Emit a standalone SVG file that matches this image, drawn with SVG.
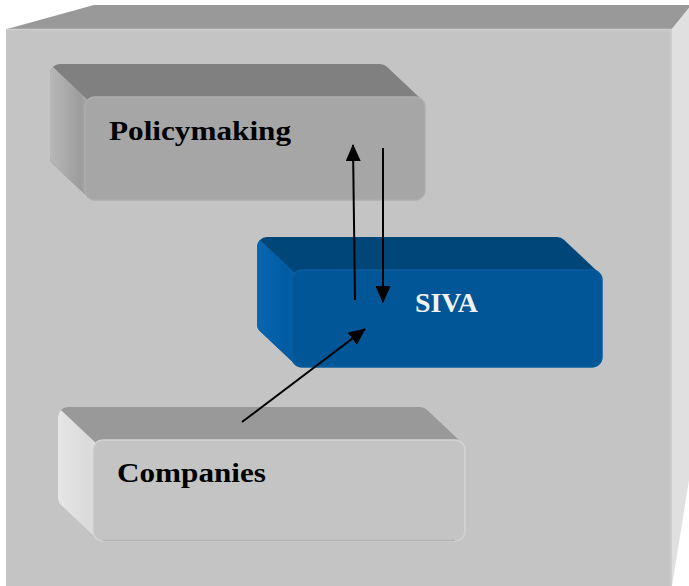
<svg xmlns="http://www.w3.org/2000/svg" width="689" height="586" viewBox="0 0 689 586">
<defs>
<style>
.lbl{font-family:"Liberation Serif","Times New Roman",serif;font-weight:bold;font-size:28px}
.conn{stroke:#000;stroke-width:2;fill:none}
</style>
<linearGradient id="gSideP" x1="0" y1="0" x2="1" y2="0">
<stop offset="0" stop-color="#b8b8b8"/><stop offset="0.8" stop-color="#9c9c9c"/><stop offset="1" stop-color="#a9a9a9"/>
</linearGradient>
<linearGradient id="gSideS" x1="0" y1="0" x2="1" y2="0">
<stop offset="0" stop-color="#0866b0"/><stop offset="0.8" stop-color="#005ba2"/><stop offset="1" stop-color="#0a62a9"/>
</linearGradient>
<linearGradient id="gSideC" x1="0" y1="0" x2="1" y2="0">
<stop offset="0" stop-color="#e6e6e6"/><stop offset="0.8" stop-color="#dadada"/><stop offset="1" stop-color="#e2e2e2"/>
</linearGradient>
<marker id="ah" viewBox="0 0 17 15" markerWidth="17" markerHeight="15" refX="16" refY="7.5" orient="auto" markerUnits="userSpaceOnUse">
<path d="M0,0 L17,7.5 L0,15 Z" fill="#000"/>
</marker>
</defs>
<rect width="689" height="586" fill="#ffffff"/>
<g id="frame">
<polygon points="7,29 94,5 689,5 689,8 672,29" fill="#999999"/>
<polygon points="672,29 689,8 689,480 672,586" fill="#e0e0e0"/>
<rect x="6" y="29" width="666" height="557" fill="#c4c4c4"/>
<line x1="6" y1="29.5" x2="672" y2="29.5" stroke="#cdcdcd" stroke-width="1.5"/>
<line x1="671" y1="29" x2="671" y2="586" stroke="#d0d0d0" stroke-width="1.5"/>
</g>
<g id="policymaking">
<path d="M60,64 L380,64 A10,10 0 0 1 386.9,66.7 L421.9,99.7 A10,10 0 0 1 425,107 L425,190 A10,10 0 0 1 415,200 L95,200 A10,10 0 0 1 88.1,197.3 L53.1,164.3 A10,10 0 0 1 50,157 L50,74 A10,10 0 0 1 60,64 Z" fill="#808080"/>
<path d="M50,157 L50,74 A10,10 0 0 1 52.9,66.9 L87.9,99.9 A10,10 0 0 0 85,107 L85,190 A10,10 0 0 0 88.1,197.3 L53.1,164.3 A10,10 0 0 1 50,157 Z" fill="url(#gSideP)"/>
<rect x="85" y="97" width="340" height="103" rx="10" fill="#a6a6a6" stroke="#adadad" stroke-width="1.5"/>
<text class="lbl" x="109" y="140" textLength="182" lengthAdjust="spacingAndGlyphs" fill="#000">Policymaking</text>
</g>
<g id="siva">
<path d="M267,237 L557,237 A10,10 0 0 1 563.9,239.7 L598.9,272.7 A10,10 0 0 1 602,280 L602,357 A10,10 0 0 1 592,367 L302,367 A10,10 0 0 1 295.1,364.3 L260.1,331.3 A10,10 0 0 1 257,324 L257,247 A10,10 0 0 1 267,237 Z" fill="#004678"/>
<path d="M257,324 L257,247 A10,10 0 0 1 259.9,239.9 L294.9,272.9 A10,10 0 0 0 292,280 L292,357 A10,10 0 0 0 295.1,364.3 L260.1,331.3 A10,10 0 0 1 257,324 Z" fill="url(#gSideS)"/>
<rect x="292" y="270" width="310" height="97" rx="10" fill="#005696" stroke="#0a5e9e" stroke-width="1.5"/>
<text class="lbl" x="415" y="312" textLength="63" lengthAdjust="spacingAndGlyphs" fill="#f2f2f2">SIVA</text>
</g>
<g id="companies">
<path d="M68,407 L420,407 A10,10 0 0 1 426.9,409.7 L461.9,442.7 A10,10 0 0 1 465,450 L465,531 A10,10 0 0 1 455,541 L103,541 A10,10 0 0 1 96.1,538.3 L61.1,505.3 A10,10 0 0 1 58,498 L58,417 A10,10 0 0 1 68,407 Z" fill="#999999"/>
<path d="M58,498 L58,417 A10,10 0 0 1 60.9,409.9 L95.9,442.9 A10,10 0 0 0 93,450 L93,531 A10,10 0 0 0 96.1,538.3 L61.1,505.3 A10,10 0 0 1 58,498 Z" fill="url(#gSideC)"/>
<rect x="93" y="440" width="372" height="101" rx="10" fill="#c4c4c4" stroke="#d3d3d3" stroke-width="1.5"/>
<line x1="103" y1="540.5" x2="455" y2="540.5" stroke="#b3b3b3" stroke-width="1.5"/>
<text class="lbl" x="117" y="482" textLength="149" lengthAdjust="spacingAndGlyphs" fill="#000">Companies</text>
</g>
<g id="connectors">
<line class="conn" x1="355" y1="300" x2="353" y2="145" marker-end="url(#ah)"/>
<line class="conn" x1="383" y1="148" x2="383" y2="302" marker-end="url(#ah)"/>
<line class="conn" x1="242" y1="422" x2="365" y2="329" marker-end="url(#ah)"/>
</g>
</svg>
